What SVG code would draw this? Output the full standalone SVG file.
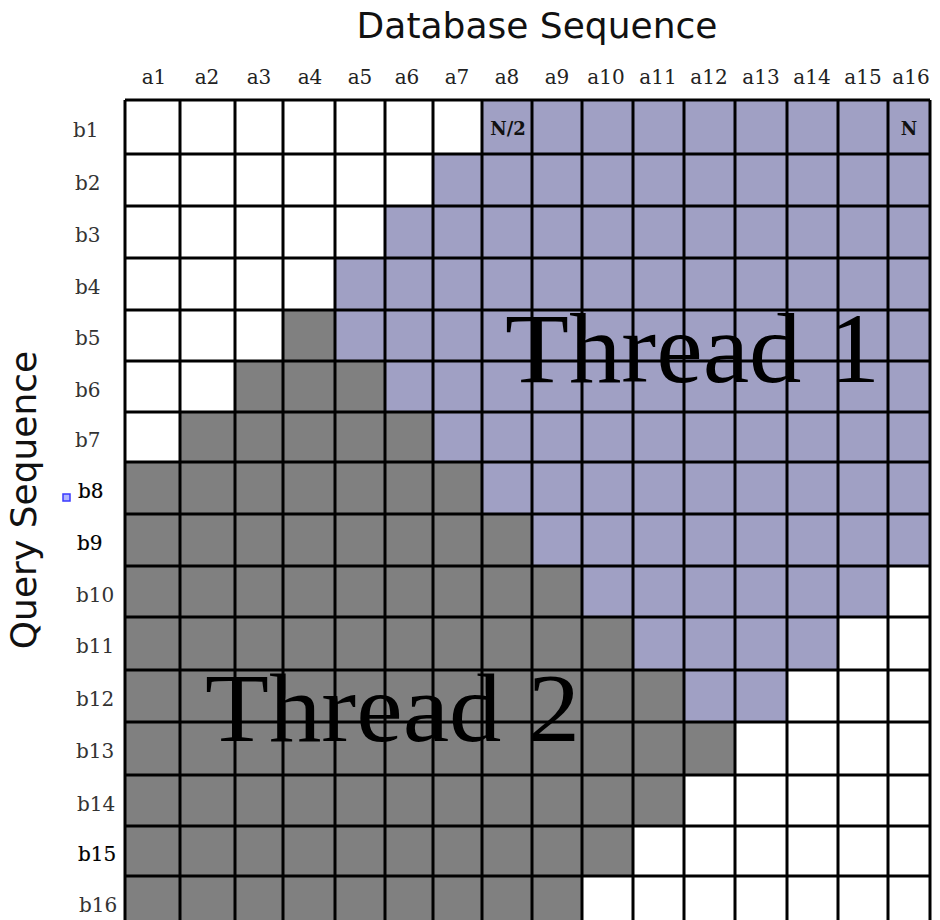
<svg xmlns="http://www.w3.org/2000/svg" width="940" height="920" viewBox="0 0 940 920">
<style>
.title{font-family:"DejaVu Sans",sans-serif;font-size:36px;fill:#111}
.col{font-family:"DejaVu Serif",serif;font-size:20px;fill:#222;text-anchor:middle}
.row{font-family:"DejaVu Serif",serif;font-size:20px;fill:#333}
.rowb{fill:#000;stroke:#000;stroke-width:0.2}
.mark{font-family:"DejaVu Serif",serif;font-weight:bold;font-size:18px;fill:#111;text-anchor:middle}
.thread{font-family:"Liberation Serif",serif;fill:#000}
.grid{fill:none;stroke:#000;stroke-width:3}
</style>
<rect width="940" height="920" fill="#fff"/>
<text class="title" x="537" y="38" text-anchor="middle">Database Sequence</text>
<text class="title" transform="translate(36,500) rotate(-90)" text-anchor="middle">Query Sequence</text>
<g id="cells">
<rect x="125" y="100" width="805" height="820" fill="#fff"/>
<polygon fill="#a0a0c4" points="482,100 930,100 930,566 888,566 888,617 838,617 838,670 787,670 787,722 684,722 684,670 633,670 633,617 582,617 582,566 532,566 532,514 482,514 482,462 433,462 433,412 385,412 385,361 335,361 335,258 385,258 385,206 433,206 433,154 482,154"/>
<polygon fill="#808080" points="283,310 335,310 335,361 385,361 385,412 433,412 433,462 482,462 482,514 532,514 532,566 582,566 582,617 633,617 633,670 684,670 684,722 735,722 735,775 684,775 684,826 633,826 633,876 582,876 582,920 125,920 125,462 180,462 180,412 235,412 235,361 283,361"/>
</g>
<g id="grid">
<path class="grid" d="M125,100V920M180,100V920M235,100V920M283,100V920M335,100V920M385,100V920M433,100V920M482,100V920M532,100V920M582,100V920M633,100V920M684,100V920M735,100V920M787,100V920M838,100V920M888,100V920M930,100V920"/>
<path class="grid" d="M125,100H930M125,154H930M125,206H930M125,258H930M125,310H930M125,361H930M125,412H930M125,462H930M125,514H930M125,566H930M125,617H930M125,670H930M125,722H930M125,775H930M125,826H930M125,876H930"/>
</g>
<g id="col-labels">
<text class="col" x="154" y="84">a1</text>
<text class="col" x="207" y="84">a2</text>
<text class="col" x="259" y="84">a3</text>
<text class="col" x="310" y="84">a4</text>
<text class="col" x="360" y="84">a5</text>
<text class="col" x="407" y="84">a6</text>
<text class="col" x="457" y="84">a7</text>
<text class="col" x="507" y="84">a8</text>
<text class="col" x="557" y="84">a9</text>
<text class="col" x="606" y="84">a10</text>
<text class="col" x="658" y="84">a11</text>
<text class="col" x="709" y="84">a12</text>
<text class="col" x="761" y="84">a13</text>
<text class="col" x="812" y="84">a14</text>
<text class="col" x="863" y="84">a15</text>
<text class="col" x="911" y="84">a16</text>
</g>
<g id="row-labels">
<text class="row" x="73" y="137">b1</text>
<text class="row" x="75" y="190">b2</text>
<text class="row" x="75" y="242">b3</text>
<text class="row" x="75" y="294">b4</text>
<text class="row" x="75" y="345">b5</text>
<text class="row" x="75" y="397">b6</text>
<text class="row" x="75" y="447">b7</text>
<text class="row rowb" x="78" y="498">b8</text>
<text class="row rowb" x="77" y="550">b9</text>
<text class="row" x="76" y="602">b10</text>
<text class="row" x="76" y="653">b11</text>
<text class="row" x="76" y="706">b12</text>
<text class="row" x="76" y="758">b13</text>
<text class="row" x="77" y="811">b14</text>
<text class="row rowb" x="78" y="861">b15</text>
<text class="row" x="79" y="912">b16</text>
</g>
<rect x="63" y="494" width="7" height="7" fill="#b0b4ff" stroke="#3a3aff" stroke-width="1.5"/>
<g id="marks">
<text class="mark" x="508" y="135">N/2</text>
<text class="mark" x="909" y="135">N</text>
</g>
<g id="threads">
<text class="thread" x="505" y="382" font-size="100" textLength="375" lengthAdjust="spacingAndGlyphs">Thread 1</text>
<text class="thread" x="205" y="741" font-size="97" textLength="375" lengthAdjust="spacingAndGlyphs">Thread 2</text>
</g>
</svg>
